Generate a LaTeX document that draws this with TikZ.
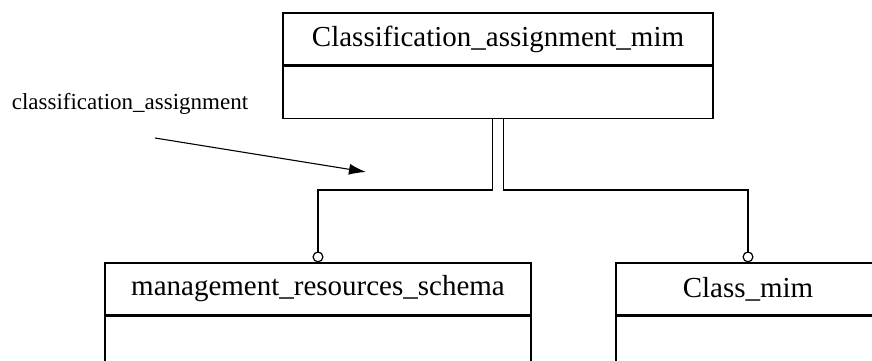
\documentclass[tikz,border=0pt]{standalone}
\usepackage{fontspec}
\setmainfont{Liberation Serif}
\usetikzlibrary{arrows.meta}
\usetikzlibrary{positioning}

\begin{document}
\begin{tikzpicture}[x=1pt,y=-1pt,
        head/.style={draw,line width=1.2pt,inner sep=0pt,minimum height=52pt,font=\fontsize{29}{34}\selectfont},
        body/.style={draw,line width=1.2pt,inner sep=0pt,minimum height=52pt},
        link/.style={line width=1.2pt,-{Circle[open,length=11pt,width=11pt,line width=1.2pt]}}]
            \clip (0,0) rectangle (872,361);
            \node[head,minimum width=430pt] (cam) at (498,39) {Classification\_assignment\_mim};
            \node[body,minimum width=430pt,below=0pt of cam] (camb) {};
            \node[head,minimum width=426pt] (mrs) at (318,289) {management\_resources\_schema};
            \node[body,minimum width=426pt,below=0pt of mrs] (mrsb) {};
            \node[head,minimum width=264pt] (cm) at (748,289) {Class\_mim};
            \node[body,minimum width=264pt,below=0pt of cm] (cmb) {};
            \node[font=\fontsize{23}{27}\selectfont] (lbl) at (130,104) {classification\_assignment};
            \coordinate (jl) at (318,190);
            \coordinate (jr) at (748,190);
            \coordinate (as) at (155,138);
            \coordinate (ae) at (366,172);
            \draw[link] ([xshift=-5.5pt]camb.south) |- (jl) -- (mrs.north);
            \draw[link] ([xshift=5.5pt]camb.south) |- (jr) -- (cm.north);
            \draw[line width=1.1pt,-{Latex[length=17pt,width=11pt]}] (as) -- (ae);
        \end{tikzpicture}
\end{document}
